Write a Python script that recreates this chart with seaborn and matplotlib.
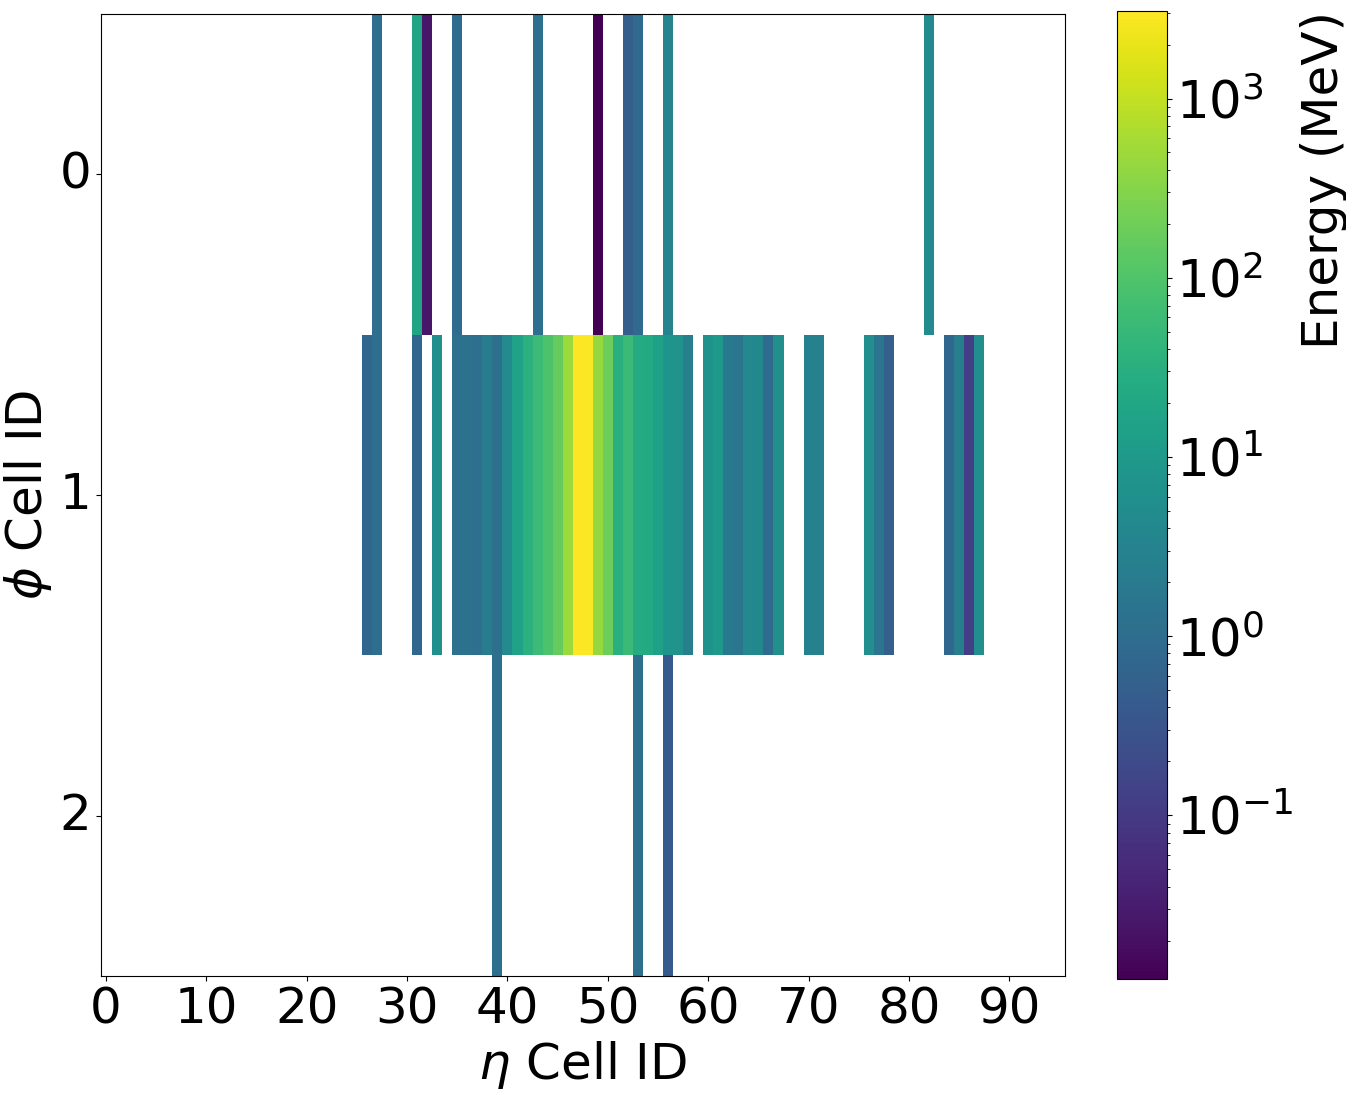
import numpy as np
import pandas as pd
import seaborn as sns
import matplotlib
matplotlib.use("Agg")
from matplotlib import pyplot as plt
from matplotlib.colors import LogNorm

# eta cell ids and deposited energy (MeV) for each phi row
phi0_eta = [27, 31, 32, 35, 43, 49, 52, 53, 56, 82]
phi0_energy = [1.05, 17, 0.025, 0.9, 1.15, 0.0122, 0.48, 0.85, 3.4, 4.5]

phi1_eta = [26, 27, 31, 33, 35, 36, 37, 38, 39, 40, 41, 42, 43, 44, 45, 46, 47, 48,
            49, 50, 51, 52, 53, 54, 55, 56, 57, 58, 60, 61, 62, 63, 64, 65, 66, 67,
            70, 71, 76, 77, 78, 84, 85, 86, 87]
phi1_energy = [0.75, 1.05, 0.75, 6.1, 1.2, 1.25, 1.05, 2.2, 1.15, 4.5, 16, 35, 60, 90,
               165, 480, 3070, 2800, 420, 190, 32, 57, 25, 23, 14, 7.8, 7.3, 2.5,
               6.5, 9.7, 1.9, 1.56, 4.2, 4.0, 0.89, 6.1, 2.8, 2.6, 5.8, 1.5, 0.5,
               0.69, 2.5, 0.114, 5.8]

phi2_eta = [39, 53, 56]
phi2_energy = [1.1, 1.1, 0.4]

n_eta = 96
n_phi = 3
x_ticks = list(range(0, 91, 10))
y_ticks = [0, 1, 2]

grid = np.full((n_phi, n_eta), np.nan)
for row, (cols, vals) in enumerate([(phi0_eta, phi0_energy),
                                    (phi1_eta, phi1_energy),
                                    (phi2_eta, phi2_energy)]):
    grid[row, cols] = vals
df = pd.DataFrame(grid, index=range(n_phi), columns=range(n_eta))

fs = 36
fig = plt.figure(figsize=(13.46, 10.94), dpi=100)
ax = fig.add_axes([0.0750, 0.1079, 0.7159, 0.8793])
cax = fig.add_axes([0.8299, 0.1051, 0.0369, 0.8846])

sns.heatmap(df, ax=ax, cbar_ax=cax, cmap="viridis",
            norm=LogNorm(vmin=np.nanmin(grid), vmax=np.nanmax(grid)),
            mask=df.isna(), xticklabels=False, yticklabels=False,
            cbar_kws={"label": "Energy (MeV)"})

ax.set_xticks([t + 0.5 for t in x_ticks])
ax.set_xticklabels([str(t) for t in x_ticks], fontsize=fs, rotation=0)
ax.set_yticks([t + 0.5 for t in y_ticks])
ax.set_yticklabels([str(t) for t in y_ticks], fontsize=fs, rotation=0, va="center")
ax.tick_params(bottom=True, left=True, length=3.5, width=0.8)
ax.set_xlabel(r"$\eta$ Cell ID", fontsize=fs)
ax.set_ylabel(r"$\phi$ Cell ID", fontsize=fs)
for s in ax.spines.values():
    s.set_visible(True)
    s.set_linewidth(0.8)
    s.set_color("black")

cb = ax.collections[0].colorbar
cb.outline.set_linewidth(0.8)
cb.outline.set_edgecolor("black")
cax.tick_params(labelsize=37)
cb.set_label("Energy (MeV)", fontsize=fs, loc="top")

fig.savefig("out.png", dpi=100)
